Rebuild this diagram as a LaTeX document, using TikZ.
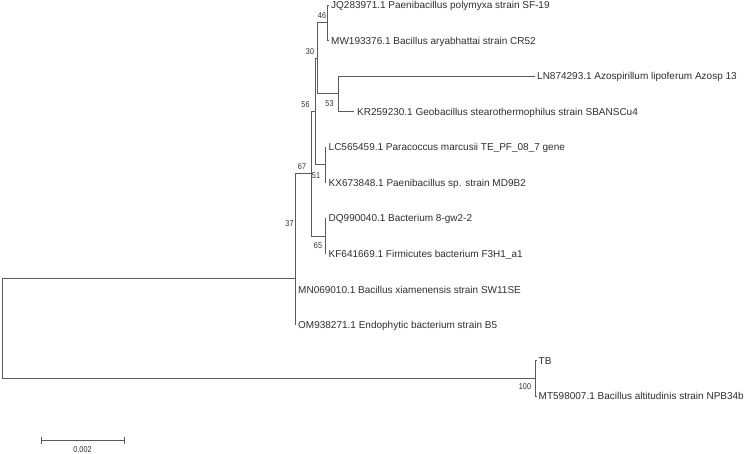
\documentclass[tikz,border=0pt]{standalone}
\usepackage{fontspec}
\usepackage{graphicx}
\setmainfont{Liberation Sans}
\definecolor{branchcol}{HTML}{5A5A5A}
\definecolor{textcol}{HTML}{2E2E2E}
\newcommand{\narrow}[1]{\scalebox{0.85}[1]{#1}}
\tikzset{
  br/.style={draw=branchcol, line width=0.9pt},
  tiplabel/.style={anchor=west, inner sep=0pt, text height=7.2pt, text depth=0pt,
    font=\fontsize{10}{12}\selectfont, text=textcol},
  bootlabel/.style={inner sep=0pt, font=\fontsize{8.5}{10}\selectfont, text=textcol},
}
\begin{document}
\begin{tikzpicture}[x=1pt,y=-1pt]
\useasboundingbox (0,0) rectangle (751,454);
% internal nodes
\coordinate (root) at (2,328.4);
\coordinate (nIn) at (295.5,278.4);
\coordinate (n37) at (295.5,231.7);
\coordinate (n67) at (311,173.9);
\coordinate (n56) at (315,111.68);
\coordinate (n30) at (317.7,58.34);
\coordinate (n46) at (327.7,22.78);
\coordinate (n53) at (338,93.9);
\coordinate (n51) at (325,164.9);
\coordinate (n65) at (325,236.1);
\coordinate (n100) at (535.5,378.4);
% tips
\coordinate (JQt) at (328.5,5);
\coordinate (MWt) at (328.5,40.56);
\coordinate (LNt) at (535,76.12);
\coordinate (KRt) at (354,111.68);
\coordinate (LCt) at (326,147.24);
\coordinate (KXt) at (326,182.8);
\coordinate (DQt) at (326,218.36);
\coordinate (KFt) at (326,253.92);
\coordinate (MNt) at (295.5,289.48);
\coordinate (OMt) at (295.5,325.04);
\coordinate (TBt) at (536,360.6);
\coordinate (MTt) at (536,396.16);
% branches
\draw[br] (root) |- (nIn);
\draw[br] (root) |- (n100);
\draw[br] (nIn) |- (n37);
\draw[br] (nIn) |- (OMt);
\draw[br] (n37) |- (n67);
\draw[br] (n37) |- (MNt);
\draw[br] (n67) |- (n56);
\draw[br] (n67) |- (n65);
\draw[br] (n56) |- (n30);
\draw[br] (n56) |- (n51);
\draw[br] (n30) |- (n46);
\draw[br] (n30) |- (n53);
\draw[br] (n46) |- (JQt);
\draw[br] (n46) |- (MWt);
\draw[br] (n53) |- (LNt);
\draw[br] (n53) |- (KRt);
\draw[br] (n51) |- (LCt);
\draw[br] (n51) |- (KXt);
\draw[br] (n65) |- (DQt);
\draw[br] (n65) |- (KFt);
\draw[br] (n100) |- (TBt);
\draw[br] (n100) |- (MTt);
% tip labels
\node[tiplabel] (JQ) at ([xshift=2.5pt]JQt) {JQ283971.1 Paenibacillus polymyxa strain SF-19};
\node[tiplabel] (MW) at ([xshift=2.5pt]MWt) {MW193376.1 Bacillus aryabhattai strain CR52};
\node[tiplabel] (LN) at ([xshift=2pt]LNt) {LN874293.1 Azospirillum lipoferum Azosp 13};
\node[tiplabel] (KR) at ([xshift=3pt]KRt) {KR259230.1 Geobacillus stearothermophilus strain SBANSCu4};
\node[tiplabel] (LC) at ([xshift=2.5pt]LCt) {LC565459.1 Paracoccus marcusii TE\_PF\_08\_7 gene};
\node[tiplabel] (KX) at ([xshift=2.5pt]KXt) {KX673848.1 Paenibacillus sp. strain MD9B2};
\node[tiplabel] (DQ) at ([xshift=2.5pt]DQt) {DQ990040.1 Bacterium 8-gw2-2};
\node[tiplabel] (KF) at ([xshift=2.5pt]KFt) {KF641669.1 Firmicutes bacterium F3H1\_a1};
\node[tiplabel] (MN) at ([xshift=2.5pt]MNt) {MN069010.1 Bacillus xiamenensis strain SW11SE};
\node[tiplabel] (OM) at ([xshift=2.5pt]OMt) {OM938271.1 Endophytic bacterium strain B5};
\node[tiplabel] (TB) at ([xshift=2.5pt]TBt) {TB};
\node[tiplabel] (MT) at ([xshift=2.5pt]MTt) {MT598007.1 Bacillus altitudinis strain NPB34b};
% bootstrap values
\node[bootlabel] (b46) at (322,16) {\narrow{46}};
\node[bootlabel] (b30) at (310,52) {\narrow{30}};
\node[bootlabel] (b56) at (305.5,105) {\narrow{56}};
\node[bootlabel] (b53) at (329.5,104) {\narrow{53}};
\node[bootlabel] (b67) at (302,167) {\narrow{67}};
\node[bootlabel] (b51) at (316,175.5) {\narrow{51}};
\node[bootlabel] (b37) at (289.5,224) {\narrow{37}};
\node[bootlabel] (b65) at (318,246) {\narrow{65}};
\node[bootlabel] (b100) at (525,387) {\narrow{100}};
% scale bar
\coordinate (sb1) at (41,440);
\coordinate (sb2) at (124,440);
\draw[br] (sb1) -- (sb2);
\draw[br] ([yshift=3.5pt]sb1) -- ([yshift=-3.5pt]sb1);
\draw[br] ([yshift=3.5pt]sb2) -- ([yshift=-3.5pt]sb2);
\node[bootlabel] (sblabel) at (82.5,450) {\narrow{0.002}};
\end{tikzpicture}
\end{document}
